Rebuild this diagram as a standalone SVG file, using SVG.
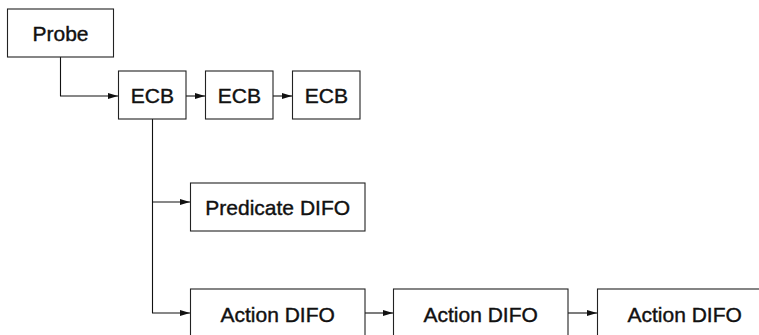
<svg xmlns="http://www.w3.org/2000/svg" width="759" height="335" viewBox="0 0 759 335">
<style>
.box{fill:#fff;stroke:#222;stroke-width:1.1}
.lbl{font-family:"Liberation Sans",Arial,sans-serif;font-size:21px;font-weight:normal;fill:#111;stroke:#111;stroke-width:0.4;text-anchor:middle}
.edge{fill:none;stroke:#111;stroke-width:1.1}
</style>
<defs>
<marker id="arr" viewBox="0 0 10 6" refX="10" refY="3" markerWidth="10" markerHeight="6" markerUnits="userSpaceOnUse" orient="auto">
<path d="M0,0 L10,3 L0,6 Z" fill="#111"/>
</marker>
</defs>
<rect width="759" height="335" fill="#fff"/>
<g id="connectors">
<path class="edge" d="M60.5,57 V96 H118" marker-end="url(#arr)"/>
<path class="edge" d="M186,96 H205" marker-end="url(#arr)"/>
<path class="edge" d="M273,96 H292" marker-end="url(#arr)"/>
<path class="edge" d="M152.5,119 V313 H190" marker-end="url(#arr)"/>
<path class="edge" d="M152.5,202 H190" marker-end="url(#arr)"/>
<path class="edge" d="M365,313 H393" marker-end="url(#arr)"/>
<path class="edge" d="M568,313 H597" marker-end="url(#arr)"/>
</g>
<g id="probe"><rect class="box" x="7.5" y="9" width="106" height="48"/><text class="lbl" x="60.5" y="40.7">Probe</text></g>
<g id="ecb1"><rect class="box" x="118.5" y="71" width="67.5" height="48"/><text class="lbl" x="152.3" y="102.7">ECB</text></g>
<g id="ecb2"><rect class="box" x="205.5" y="71" width="67.5" height="48"/><text class="lbl" x="239.3" y="102.7">ECB</text></g>
<g id="ecb3"><rect class="box" x="292.5" y="71" width="67.5" height="48"/><text class="lbl" x="326.3" y="102.7">ECB</text></g>
<g id="predicate"><rect class="box" x="190.5" y="183" width="174.5" height="48"/><text class="lbl" x="277.7" y="215">Predicate DIFO</text></g>
<g id="action1"><rect class="box" x="190.5" y="289" width="174.5" height="48"/><text class="lbl" x="277.7" y="321.7">Action DIFO</text></g>
<g id="action2"><rect class="box" x="393.5" y="289" width="174.5" height="48"/><text class="lbl" x="480.7" y="321.7">Action DIFO</text></g>
<g id="action3"><rect class="box" x="597.5" y="289" width="174.5" height="48"/><text class="lbl" x="684.7" y="321.7">Action DIFO</text></g>
</svg>
